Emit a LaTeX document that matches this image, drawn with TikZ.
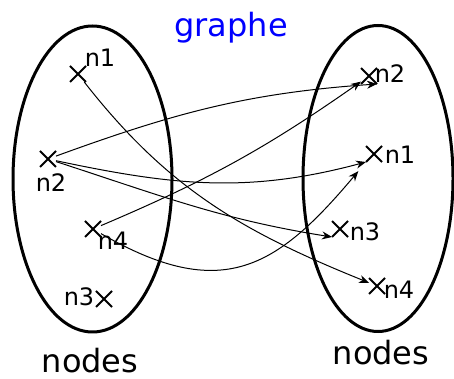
\documentclass[tikz,border=0pt]{standalone}
\usepackage{fontspec}
\setmainfont{DejaVu Sans}
\usepackage{tikz}
\usetikzlibrary{shapes.geometric, shapes.misc, arrows.meta, positioning}
\tikzset{
  setellipse/.style={
    draw, ellipse, line width=1.5pt, inner sep=0pt
  },
  crossmark/.style={
    draw, cross out, line width=1pt, minimum size=7pt, inner sep=0pt
  },
  ptlabel/.style={
    font=\fontsize{12}{14}\selectfont, inner sep=0pt
  },
  setlabel/.style={
    font=\fontsize{16}{19}\selectfont, inner sep=0pt
  },
  mapedge/.style={
    -{Stealth[length=5pt,width=4pt]}, line width=0.5pt
  },
}
\begin{document}
\begin{tikzpicture}[x=0.5pt, y=0.5pt]
  \useasboundingbox (0,0) rectangle (454,379);

  % ── Title ─────────────────────────────────────────────────────
  \node[setlabel, text=blue] (title) at (231,351) {graphe};

  % ── The two sets ──────────────────────────────────────────────
  \node[setellipse, minimum width=79.5pt, minimum height=153pt]
    (setL) at (92.5,200) {};
  \node[setellipse, minimum width=75pt, minimum height=153pt]
    (setR) at (378,200.5) {};
  \node[setlabel] (nodesL) at (90,18) {nodes};
  \node[setlabel] (nodesR) at (381,26) {nodes};

  % ── Points ────────────────────────────────────────────────────
  \foreach \nm/\x/\y in {ln1/78/305, ln2/48/220, ln4/93/150, ln3/104/80,
                         rn2/369/303, rn1/374/225, rn3/340/150, rn4/377/93} {
    \node[crossmark] (\nm) at (\x,\y) {};
  }

  % point labels
  \foreach \nm/\x/\y/\lab in {ln1/100/321/n1, ln2/51/196/n2, ln4/113/138/n4,
                              ln3/79/82/n3, rn2/390/305/n2, rn1/400/224/n1,
                              rn3/365/147/n3, rn4/399/89/n4} {
    \node[ptlabel] (\nm lab) at (\x,\y) {\lab};
  }

  % ── Mapping ───────────────────────────────────────────────────
  \draw[mapedge] (ln1) to[out=-52, in=158] (rn4);
  \draw[mapedge] (ln2) to[out=20, in=184] (rn2.south east);
  \draw[mapedge] (ln2) to[out=-12, in=195] (rn1.south west);
  \draw[mapedge] (ln2) to[out=-18, in=171] (rn3.south west);
  \draw[mapedge] (ln4) to[out=23, in=215] (rn2);
  \draw[mapedge, shorten >=6pt] (ln4) to[out=-30, in=230, looseness=1.3]
    (rn1.south west);
\end{tikzpicture}
\end{document}
